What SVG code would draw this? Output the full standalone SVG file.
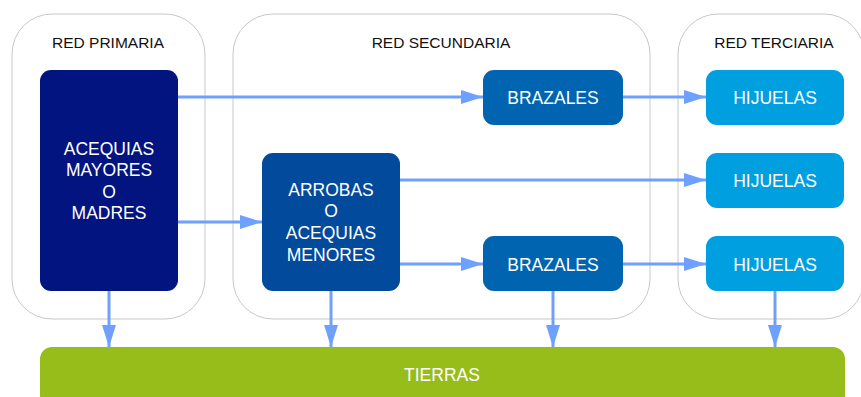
<svg xmlns="http://www.w3.org/2000/svg" width="861" height="397" viewBox="0 0 861 397">
<defs>
<style>
.grp{fill:#fff;stroke:#c8c8c8;stroke-width:1}
.title{font-family:"Liberation Sans",Arial,sans-serif;font-size:15.5px;fill:#111;text-anchor:middle}
.lbl{font-family:"Liberation Sans",Arial,sans-serif;font-size:17.5px;fill:#fff;text-anchor:middle}
.conn{stroke:#6ea0ff;stroke-width:3;fill:none;marker-end:url(#ah)}
</style>
<marker id="ah" viewBox="0 0 22 14" refX="22" refY="7" markerWidth="22" markerHeight="14" markerUnits="userSpaceOnUse" orient="auto">
<path d="M0,0 L22,7 L0,14 z" fill="#6ea0ff"/>
</marker>
</defs>
<rect width="861" height="397" fill="#fff"/>
<g id="red-primaria"><rect class="grp" x="12" y="14" width="193" height="305" rx="40"/><text class="title" x="108" y="48">RED PRIMARIA</text></g>
<g id="red-secundaria"><rect class="grp" x="233" y="14" width="417" height="305" rx="40"/><text class="title" x="441" y="48">RED SECUNDARIA</text></g>
<g id="red-terciaria"><rect class="grp" x="678" y="14" width="186" height="305" rx="40"/><text class="title" x="774" y="48">RED TERCIARIA</text></g>
<g id="tierras"><rect x="40" y="347" width="805" height="60" rx="12" fill="#97bd1a"/><text class="lbl" x="442" y="381">TIERRAS</text></g>
<g id="acequias"><rect x="40" y="70" width="138" height="221" rx="11" fill="#021480"/>
<text class="lbl" x="109" y="155">ACEQUIAS</text><text class="lbl" x="109" y="176.3">MAYORES</text><text class="lbl" x="109" y="197.6">O</text><text class="lbl" x="109" y="219">MADRES</text></g>
<g id="arrobas"><rect x="262" y="153" width="138" height="138" rx="11" fill="#024a9c"/>
<text class="lbl" x="331" y="195.5">ARROBAS</text><text class="lbl" x="331" y="217">O</text><text class="lbl" x="331" y="239">ACEQUIAS</text><text class="lbl" x="331" y="261">MENORES</text></g>
<g id="brazales1"><rect x="483" y="70" width="140" height="55" rx="11" fill="#0064b0"/><text class="lbl" x="553" y="104">BRAZALES</text></g>
<g id="brazales2"><rect x="483" y="236" width="140" height="55" rx="11" fill="#0064b0"/><text class="lbl" x="553" y="271">BRAZALES</text></g>
<g id="hijuelas1"><rect x="706" y="70" width="138" height="55" rx="11" fill="#009fdf"/><text class="lbl" x="775" y="104">HIJUELAS</text></g>
<g id="hijuelas2"><rect x="706" y="153" width="138" height="55" rx="11" fill="#009fdf"/><text class="lbl" x="775" y="187">HIJUELAS</text></g>
<g id="hijuelas3"><rect x="706" y="236" width="138" height="55" rx="11" fill="#009fdf"/><text class="lbl" x="775" y="271">HIJUELAS</text></g>
<g id="connectors">
<path class="conn" d="M178,97 H483"/>
<path class="conn" d="M178,222 H262"/>
<path class="conn" d="M623,97 H706"/>
<path class="conn" d="M400,180 H706"/>
<path class="conn" d="M400,264 H483"/>
<path class="conn" d="M623,264 H706"/>
<path class="conn" d="M109,291 V347"/>
<path class="conn" d="M331,291 V347"/>
<path class="conn" d="M553,291 V347"/>
<path class="conn" d="M775,291 V347"/>
</g>
</svg>
